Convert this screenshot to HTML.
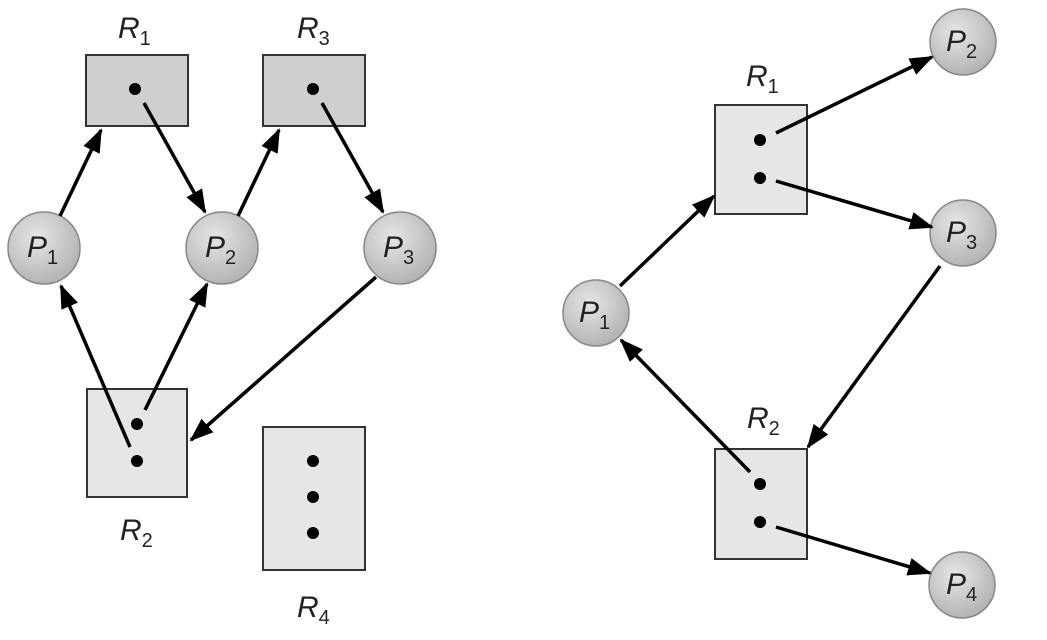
<!DOCTYPE html>
<html><head><meta charset="utf-8"><style>html,body{margin:0;padding:0;background:#fff}svg{display:block}</style></head>
<body>
<svg width="1047" height="640" viewBox="0 0 1047 640" xmlns="http://www.w3.org/2000/svg">
<defs>
<radialGradient id="g" cx="0.4" cy="0.35" r="0.7">
<stop offset="0" stop-color="#e6e6e6"/><stop offset="1" stop-color="#b0b0b0"/>
</radialGradient>
<marker id="b" markerWidth="24" markerHeight="20" refX="22" refY="10" orient="auto" markerUnits="userSpaceOnUse" viewBox="0 0 24 20">
<path d="M0,1 L24,10 L0,19 z" fill="#000"/>
</marker>
</defs>
<g font-family="Liberation Sans, sans-serif" fill="#222">
<rect x="86" y="55" width="102" height="71" fill="#cfcfcf" stroke="#333" stroke-width="2"/>
<rect x="263" y="55" width="102" height="71" fill="#cfcfcf" stroke="#333" stroke-width="2"/>
<rect x="87" y="389" width="100" height="108" fill="#e6e6e6" stroke="#333" stroke-width="2"/>
<rect x="263" y="427" width="102" height="143" fill="#e6e6e6" stroke="#333" stroke-width="2"/>
<circle cx="135" cy="89" r="6" fill="#000"/>
<circle cx="313" cy="89" r="6" fill="#000"/>
<circle cx="137" cy="424" r="6" fill="#000"/>
<circle cx="137" cy="461" r="6" fill="#000"/>
<circle cx="313" cy="461" r="6" fill="#000"/>
<circle cx="313" cy="497" r="6" fill="#000"/>
<circle cx="313" cy="533" r="6" fill="#000"/>
<circle cx="44" cy="248" r="36" fill="url(#g)" stroke="#888" stroke-width="1.5"/>
<circle cx="222" cy="248" r="36" fill="url(#g)" stroke="#888" stroke-width="1.5"/>
<circle cx="400" cy="248" r="36" fill="url(#g)" stroke="#888" stroke-width="1.5"/>
<g stroke="#000" stroke-width="3.5" fill="none" marker-end="url(#b)">
<line x1="60" y1="216" x2="101" y2="130"/>
<line x1="144" y1="103" x2="205" y2="212"/>
<line x1="238" y1="216" x2="279" y2="130"/>
<line x1="322" y1="103" x2="383" y2="212"/>
<line x1="376" y1="277" x2="191" y2="440"/>
<line x1="130" y1="447" x2="61" y2="286"/>
<line x1="145" y1="410" x2="207" y2="284"/>
</g>
<g font-style="italic" font-size="30">
<text x="118" y="38">R<tspan font-style="normal" font-size="20" dy="7">1</tspan></text>
<text x="297" y="38">R<tspan font-style="normal" font-size="20" dy="7">3</tspan></text>
<text x="120" y="540">R<tspan font-style="normal" font-size="20" dy="7">2</tspan></text>
<text x="297" y="617">R<tspan font-style="normal" font-size="20" dy="7">4</tspan></text>
<text x="27" y="257">P<tspan font-style="normal" font-size="20" dy="7">1</tspan></text>
<text x="205" y="257">P<tspan font-style="normal" font-size="20" dy="7">2</tspan></text>
<text x="383" y="257">P<tspan font-style="normal" font-size="20" dy="7">3</tspan></text>
</g>

<rect x="715" y="105" width="92" height="109" fill="#e6e6e6" stroke="#333" stroke-width="2"/>
<rect x="715" y="449" width="92" height="110" fill="#e6e6e6" stroke="#333" stroke-width="2"/>
<circle cx="760" cy="140" r="6" fill="#000"/>
<circle cx="760" cy="178" r="6" fill="#000"/>
<circle cx="760" cy="484" r="6" fill="#000"/>
<circle cx="760" cy="522" r="6" fill="#000"/>
<circle cx="963" cy="42" r="33" fill="url(#g)" stroke="#888" stroke-width="1.5"/>
<circle cx="963" cy="233" r="33" fill="url(#g)" stroke="#888" stroke-width="1.5"/>
<circle cx="596" cy="313" r="33" fill="url(#g)" stroke="#888" stroke-width="1.5"/>
<circle cx="962" cy="585" r="33" fill="url(#g)" stroke="#888" stroke-width="1.5"/>
<g stroke="#000" stroke-width="3.5" fill="none" marker-end="url(#b)">
<line x1="776" y1="133" x2="932" y2="57"/>
<line x1="776" y1="181" x2="932" y2="227"/>
<line x1="620" y1="286" x2="714" y2="196"/>
<line x1="940" y1="266" x2="808" y2="447"/>
<line x1="750" y1="472" x2="621" y2="340"/>
<line x1="776" y1="527" x2="930" y2="573"/>
</g>
<g font-style="italic" font-size="30">
<text x="746" y="86">R<tspan font-style="normal" font-size="20" dy="7">1</tspan></text>
<text x="747" y="428">R<tspan font-style="normal" font-size="20" dy="7">2</tspan></text>
<text x="946" y="51">P<tspan font-style="normal" font-size="20" dy="7">2</tspan></text>
<text x="946" y="242">P<tspan font-style="normal" font-size="20" dy="7">3</tspan></text>
<text x="579" y="322">P<tspan font-style="normal" font-size="20" dy="7">1</tspan></text>
<text x="946" y="594">P<tspan font-style="normal" font-size="20" dy="7">4</tspan></text>
</g>
</g>
</svg>
</body></html>
